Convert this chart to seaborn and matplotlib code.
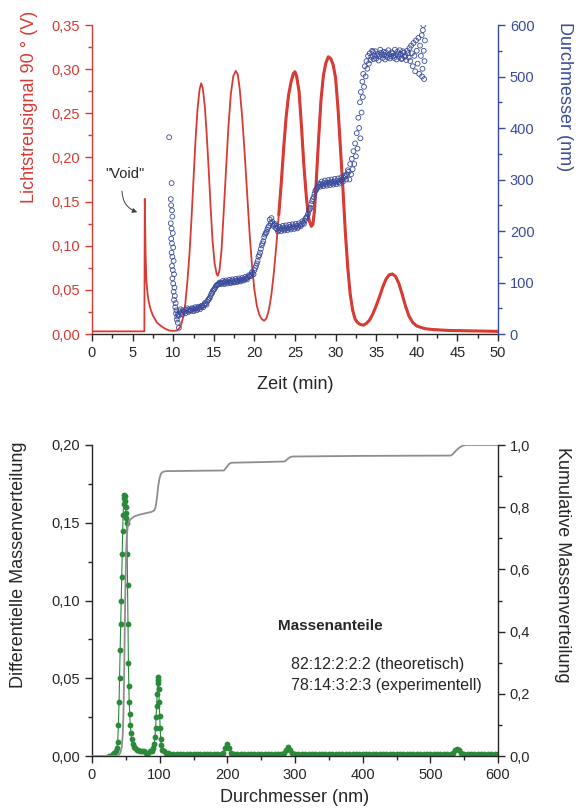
import pandas as pd
import seaborn as sns
import matplotlib.pyplot as plt
import matplotlib.ticker as mtick

# Lichtstreusignal (V) over Zeit (min)
sig_time = [0.0, 6.45, 6.5, 6.6, 6.7, 6.85, 7.0, 7.25, 7.5, 7.75,
            8.0, 8.5, 9.0, 9.5, 10.0, 10.5, 10.8, 11.0, 11.25, 11.5,
            11.75, 12.0, 12.25, 12.5, 12.75, 13.0, 13.25, 13.45, 13.65, 13.9,
            14.1, 14.35, 14.6, 14.85, 15.1, 15.35, 15.5, 15.7, 15.95, 16.2,
            16.5, 16.8, 17.1, 17.4, 17.7, 17.95, 18.2, 18.5, 18.8, 19.1,
            19.4, 19.7, 20.0, 20.3, 20.6, 20.9, 21.2, 21.5, 21.8, 22.1,
            22.4, 22.7, 23.0, 23.3, 23.6, 23.9, 24.2, 24.5, 24.8, 25.0,
            25.2, 25.5, 25.8, 26.1, 26.4, 26.7, 27.0, 27.2, 27.4, 27.6,
            27.9, 28.2, 28.5, 28.8, 29.1, 29.4, 29.7, 30.0, 30.3, 30.6,
            30.9, 31.2, 31.5, 31.8, 32.1, 32.4, 32.7, 33.0, 33.4, 33.8,
            34.2, 34.6, 35.0, 35.4, 35.8, 36.2, 36.6, 37.0, 37.4, 37.8,
            38.2, 38.6, 39.0, 39.5, 40.0, 41.0, 42.0, 44.0, 47.0, 50.0]
sig_volt = [0.003, 0.003, 0.153, 0.09, 0.06, 0.045, 0.036, 0.027, 0.021, 0.017,
            0.013, 0.009, 0.006, 0.004, 0.0035, 0.004, 0.007, 0.011, 0.02, 0.035,
            0.06, 0.09, 0.13, 0.175, 0.22, 0.255, 0.277, 0.284, 0.278, 0.257,
            0.23, 0.19, 0.145, 0.105, 0.08, 0.068, 0.066, 0.072, 0.095, 0.135,
            0.185, 0.235, 0.272, 0.292, 0.298, 0.294, 0.277, 0.245, 0.205, 0.16,
            0.115, 0.078, 0.05, 0.032, 0.022, 0.017, 0.015, 0.018, 0.028, 0.045,
            0.07, 0.1, 0.135, 0.17, 0.21, 0.245, 0.27, 0.285, 0.295, 0.297,
            0.292, 0.275, 0.235, 0.19, 0.155, 0.13, 0.122, 0.124, 0.14, 0.17,
            0.22, 0.265, 0.293, 0.307, 0.314, 0.312, 0.305, 0.29, 0.255, 0.21,
            0.165, 0.115, 0.075, 0.045, 0.027, 0.017, 0.013, 0.011, 0.010, 0.012,
            0.016, 0.023, 0.032, 0.042, 0.053, 0.062, 0.067, 0.068, 0.065, 0.057,
            0.045, 0.032, 0.021, 0.013, 0.009, 0.006, 0.005, 0.004, 0.0035, 0.003]

# Durchmesser (nm) scatter over Zeit (min)
dia_time = [9.5, 9.8, 9.7, 9.75, 9.85, 9.9, 9.7, 9.8, 9.95, 9.75,
            9.85, 10.0, 9.8, 9.9, 10.05, 9.85, 9.95, 10.1, 9.9, 10.0,
            10.15, 10.05, 10.2, 10.1, 10.3, 10.25, 10.4, 10.35, 10.5, 10.45,
            10.7, 10.55,
            10.6, 10.8, 11.0, 11.2, 11.4, 11.6, 11.8, 12.0, 12.2, 12.4,
            12.6, 12.8, 13.0, 13.2, 13.4, 13.6, 13.8, 14.0, 14.2, 14.4,
            10.7, 10.9, 11.1, 11.3, 11.5, 11.7, 11.9, 12.1, 12.3, 12.5,
            12.7, 12.9, 13.1, 13.3, 13.5, 13.7, 13.9, 14.1, 14.3,
            14.6, 14.8, 15.0, 15.2, 15.4, 15.6, 15.8, 16.0,
            14.5, 14.7, 14.9, 15.1, 15.3, 15.5, 15.7, 15.9,
            16.2, 16.4, 16.6, 16.8, 17.0, 17.2, 17.4, 17.6, 17.8, 18.0,
            18.2, 18.4, 18.6, 18.8, 19.0, 19.2, 19.4, 19.6, 19.8, 20.0,
            16.1, 16.3, 16.5, 16.7, 16.9, 17.1, 17.3, 17.5, 17.7, 17.9,
            18.1, 18.3, 18.5, 18.7, 18.9, 19.1, 19.3, 19.5, 19.7, 19.9,
            20.2, 20.4, 20.6, 20.8, 21.0, 21.2, 21.4, 21.6, 21.8, 22.0,
            22.2, 22.4, 22.6,
            20.1, 20.3, 20.5, 20.7, 20.9, 21.1, 21.3, 21.5, 21.7, 21.9,
            22.1, 22.3, 22.5,
            22.8, 23.0, 23.2, 23.4, 23.6, 23.8, 24.0, 24.2, 24.4, 24.6,
            24.8, 25.0, 25.2, 25.4, 25.6, 25.8, 26.0, 26.2, 26.4,
            22.7, 22.9, 23.1, 23.3, 23.5, 23.7, 23.9, 24.1, 24.3, 24.5,
            24.7, 24.9, 25.1, 25.3, 25.5, 25.7, 25.9, 26.1, 26.3, 26.5,
            26.6, 26.8, 27.0, 27.2, 27.4, 27.6, 27.8, 28.0, 28.2,
            26.7, 26.9, 27.1, 27.3, 27.5, 27.7, 27.9, 28.1, 28.3,
            28.4, 28.6, 28.8, 29.0, 29.2, 29.4, 29.6, 29.8, 30.0, 30.2,
            30.4, 30.6, 30.8, 31.0, 31.2, 31.4,
            28.5, 28.7, 28.9, 29.1, 29.3, 29.5, 29.7, 29.9, 30.1, 30.3,
            30.5, 30.7, 30.9, 31.1, 31.3, 31.5,
            31.6, 31.7, 31.8, 31.9, 32.0, 32.1, 32.2, 32.3, 32.4, 32.5,
            32.6, 32.7, 32.8, 32.9, 33.0, 33.05, 33.1, 33.2, 33.3, 33.35,
            33.4, 33.5, 33.6, 33.7, 33.8, 33.9, 34.0, 34.1,
            34.2, 34.4, 34.6, 34.8, 35.0, 35.2, 35.4, 35.6, 35.8, 36.0,
            36.2, 36.4, 36.6, 36.8, 37.0, 37.2, 37.4, 37.6, 37.8, 38.0,
            38.2, 38.4, 38.6, 38.8, 39.0,
            34.3, 34.5, 34.7, 34.9, 35.1, 35.3, 35.5, 35.7, 35.9, 36.1,
            36.3, 36.5, 36.7, 36.9, 37.1, 37.3, 37.5, 37.7, 37.9, 38.1,
            38.3, 38.5, 38.7, 38.9,
            39.1, 39.2, 39.3, 39.4, 39.5, 39.6, 39.7, 39.8, 39.9, 40.0,
            40.1, 40.2, 40.3, 40.4, 40.5, 40.6, 40.7, 40.75, 40.8, 40.85,
            40.9, 41.0, 40.95, 40.65]
dia_nm = [382, 293, 262, 250, 240, 228, 215, 205, 196, 185,
          176, 168, 158, 150, 142, 132, 124, 116, 108, 98,
          90, 82, 74, 66, 60, 52, 46, 40, 34, 28,
          12, 22,
          38, 44, 41, 46, 43, 47, 45, 48, 46, 49,
          47, 50, 49, 51, 52, 54, 56, 59, 63, 68,
          36, 48, 38, 44, 40, 50, 43, 45, 50, 44,
          52, 46, 53, 48, 55, 52, 60, 57, 66,
          74, 80, 86, 91, 95, 97, 99, 100,
          70, 78, 84, 88, 94, 96, 100, 97,
          99, 101, 100, 102, 100, 103, 101, 102, 104, 103,
          105, 104, 106, 107, 108, 110, 112, 115, 118, 124,
          103, 97, 104, 98, 105, 99, 106, 100, 107, 101,
          108, 102, 109, 104, 111, 106, 114, 112, 120, 116,
          132, 142, 153, 165, 176, 188, 196, 203, 210, 215,
          218, 212, 206,
          128, 137, 150, 158, 172, 180, 193, 198, 207, 222,
          225, 210, 214,
          204, 202, 205, 203, 206, 204, 207, 205, 208, 206,
          209, 207, 210, 208, 211, 213, 216, 220, 226,
          210, 199, 208, 200, 210, 201, 211, 202, 212, 203,
          213, 204, 214, 205, 215, 209, 219, 214, 224, 228,
          233, 242, 252, 262, 272, 280, 286, 289, 291,
          240, 245, 258, 266, 278, 283, 292, 286, 296,
          290, 293, 291, 294, 292, 295, 293, 296, 294, 297,
          295, 298, 300, 303, 306, 310,
          287, 298, 288, 299, 289, 300, 290, 301, 291, 302,
          292, 304, 296, 308, 300, 318,
          315, 300, 330, 310, 340, 320, 355, 330, 370, 345,
          390, 360, 420, 400, 450, 380, 470, 430, 490, 460,
          505, 480, 520, 500, 530, 515, 540, 525,
          545, 538, 548, 540, 535, 544, 539, 546, 536, 542,
          547, 537, 543, 539, 545, 536, 541, 548, 538, 544,
          535, 546, 540, 550, 537,
          532, 550, 534, 549, 541, 531, 552, 542, 548, 533,
          540, 551, 535, 547, 540, 552, 533, 543, 551, 534,
          549, 538, 532, 545,
          555, 530, 560, 545, 520, 565, 540, 510, 570, 550,
          525, 575, 505, 560, 540, 580, 515, 590, 600, 550,
          495, 570, 530, 500]

# Differentielle Massenverteilung: peaks at 48 and 98 nm
peak_nm = [25, 28, 31, 33, 35, 36.5, 38, 39, 40, 40.7,
           41.5, 42.4, 43.2, 44, 44.7, 45.3, 46, 46.6, 47.2, 47.8,
           48.4, 49, 49.6, 50.2, 50.8, 51.4, 52, 52.6, 53.2, 53.8,
           54.4, 55, 55.7, 56.5, 57.5, 58.5, 60, 62, 64, 66,
           68, 71, 74, 77, 80, 83, 86, 88.5, 90.5, 92,
           93, 94, 94.8, 95.5, 96.2, 96.9, 97.5, 98.1, 98.7, 99.3,
           100, 100.7, 101.5, 102.5, 104, 106, 109, 112, 116, 120]
peak_val = [0.000, 0.000, 0.001, 0.002, 0.003, 0.005, 0.009, 0.02, 0.035, 0.05,
            0.068, 0.085, 0.1, 0.115, 0.13, 0.145, 0.155, 0.162, 0.166, 0.168,
            0.167, 0.164, 0.16, 0.156, 0.153, 0.15, 0.13, 0.11, 0.085, 0.06,
            0.045, 0.035, 0.027, 0.02, 0.015, 0.011, 0.008, 0.006, 0.005, 0.004,
            0.004, 0.003, 0.003, 0.003, 0.002, 0.002, 0.003, 0.003, 0.005, 0.008,
            0.012, 0.018, 0.025, 0.032, 0.04, 0.047, 0.051, 0.049, 0.043, 0.035,
            0.026, 0.018, 0.011, 0.007, 0.004, 0.003, 0.002, 0.002, 0.001, 0.001]

# Differentielle Massenverteilung: baseline with small peaks at 200, 290, 540 nm
base_nm = [125, 130, 135, 140, 145, 150, 155, 160, 165, 170, 175, 180, 185, 190,
           194, 197, 200, 203, 206,
           210, 215, 220, 225, 230, 235, 240, 245, 250, 255, 260, 265, 270, 275, 280,
           284, 287, 290, 293, 296,
           300, 305, 310, 315, 320, 325, 330, 335, 340, 345, 350, 355, 360, 365, 370,
           375, 380, 385, 390, 395, 400, 405, 410, 415, 420, 425, 430, 435, 440, 445,
           450, 455, 460, 465, 470, 475, 480, 485, 490, 495, 500, 505, 510, 515, 520,
           525, 530,
           534, 537, 540, 543, 546,
           550, 555, 560, 565, 570, 575, 580, 585, 590, 595, 600]
base_val = [0.001, 0.001, 0.001, 0.001, 0.001, 0.001, 0.001, 0.001, 0.001, 0.001, 0.001, 0.001, 0.001, 0.001,
            0.002, 0.005, 0.008, 0.005, 0.002,
            0.001, 0.001, 0.001, 0.001, 0.001, 0.001, 0.001, 0.001, 0.001, 0.001, 0.001, 0.001, 0.001, 0.001, 0.001,
            0.002, 0.004, 0.006, 0.004, 0.002,
            0.001, 0.001, 0.001, 0.001, 0.001, 0.001, 0.001, 0.001, 0.001, 0.001, 0.001, 0.001, 0.001, 0.001, 0.001,
            0.001, 0.001, 0.001, 0.001, 0.001, 0.001, 0.001, 0.001, 0.001, 0.001, 0.001, 0.001, 0.001, 0.001, 0.001,
            0.001, 0.001, 0.001, 0.001, 0.001, 0.001, 0.001, 0.001, 0.001, 0.001, 0.001, 0.001, 0.001, 0.001, 0.001,
            0.001, 0.001,
            0.002, 0.004, 0.0045, 0.004, 0.002,
            0.001, 0.001, 0.001, 0.001, 0.001, 0.001, 0.001, 0.001, 0.001, 0.001, 0.001]

# Kumulative Massenverteilung
cum_nm = [0, 38, 42, 44, 45.5, 46.5, 47.5, 48.5, 49.5, 50.5,
          51.5, 53, 55, 58, 62, 70, 80, 88, 92, 94,
          96, 98, 100, 102, 105, 110, 150, 195, 198, 202,
          206, 250, 285, 288, 292, 296, 400, 530, 533, 537,
          542, 547, 552, 600]
cum_val = [0, 0, 0.01, 0.03, 0.07, 0.14, 0.26, 0.42, 0.56, 0.66,
           0.71, 0.74, 0.755, 0.763, 0.77, 0.776, 0.781, 0.785, 0.79, 0.80,
           0.83, 0.87, 0.895, 0.908, 0.914, 0.916, 0.917, 0.918, 0.926, 0.938,
           0.943, 0.945, 0.947, 0.953, 0.96, 0.963, 0.965, 0.966, 0.97, 0.98,
           0.99, 0.997, 1.0, 1.0]

RED = '#d83a34'
BLUE = '#3b4b9b'
GREEN = '#2b8a3a'
GRAY = '#8e8e8e'

sns.set_style("ticks")
plt.rcParams['font.family'] = ['Liberation Sans', 'DejaVu Sans']
plt.rcParams['axes.linewidth'] = 1.0

sig = pd.DataFrame({'Zeit': sig_time, 'Signal': sig_volt})
dia = pd.DataFrame({'Zeit': dia_time, 'Durchmesser': dia_nm})
diff = pd.DataFrame({'nm': peak_nm + base_nm, 'val': peak_val + base_val})
cum = pd.DataFrame({'nm': cum_nm, 'val': cum_val})

fig = plt.figure(figsize=(5.82, 8.09), dpi=100)
ax1 = fig.add_axes([92 / 582, 1 - 334 / 809, 406 / 582, 309 / 809])
ax1b = ax1.twinx()
ax2 = fig.add_axes([92 / 582, 1 - 756 / 809, 406 / 582, 311 / 809])
ax2b = ax2.twinx()

# --- upper panel ---
sns.lineplot(data=sig, x='Zeit', y='Signal', ax=ax1, color=RED, lw=1.3,
             estimator=None, sort=False)
# noisy part of the trace drawn thicker
sns.lineplot(data=sig[sig['Zeit'] >= 23], x='Zeit', y='Signal', ax=ax1,
             color=RED, lw=2.2, estimator=None, sort=False)
sns.scatterplot(data=dia, x='Zeit', y='Durchmesser', ax=ax1b, marker='o',
                s=12, color=BLUE, facecolor='none', edgecolor=BLUE, linewidth=0.6)

ax1.set_xlim(0, 50)
ax1.set_ylim(0, 0.35)
ax1b.set_ylim(0, 600)

ax1.text(4.1, 0.181, '"Void"', ha='center', va='center', fontsize=10.5)
ax1.annotate('', xy=(5.9, 0.137), xytext=(3.7, 0.165),
             arrowprops=dict(arrowstyle='-|>', connectionstyle='arc3,rad=0.4',
                             color='0.25', lw=0.7, mutation_scale=7))

# --- lower panel ---
sns.lineplot(data=diff, x='nm', y='val', ax=ax2, color=GREEN, lw=0.8,
             marker='o', markersize=4.2, markeredgewidth=0, estimator=None, sort=False)
sns.lineplot(data=cum, x='nm', y='val', ax=ax2b, color=GRAY, lw=1.3,
             estimator=None, sort=False)

ax2.set_xlim(0, 600)
ax2.set_ylim(0, 0.20)
ax2b.set_ylim(0, 1.0)

ax2.text(0.458, 0.418, 'Massenanteile', transform=ax2.transAxes,
         fontsize=11, fontweight='bold', va='center', ha='left')
ax2.text(0.491, 0.293, '82:12:2:2:2 (theoretisch)', transform=ax2.transAxes,
         fontsize=11.5, va='center', ha='left')
ax2.text(0.491, 0.228, '78:14:3:2:3 (experimentell)', transform=ax2.transAxes,
         fontsize=11.5, va='center', ha='left')

# --- axes formatting ---
def comma(fmt):
    return mtick.FuncFormatter(lambda v, p: format(v, fmt).replace('.', ','))

for ax in (ax1, ax1b, ax2, ax2b):
    ax.spines['top'].set_visible(False)
    ax.tick_params(which='both', direction='out', labelsize=10.5, width=1)
    ax.tick_params(which='major', length=5)
    ax.tick_params(which='minor', length=3)

for ax in (ax1, ax2):
    ax.spines['right'].set_visible(False)
for ax in (ax1b, ax2b):
    ax.spines['left'].set_visible(False)
    ax.spines['bottom'].set_visible(False)

ax1.xaxis.set_major_locator(mtick.MultipleLocator(5))
ax1.xaxis.set_minor_locator(mtick.MultipleLocator(2.5))
ax1.yaxis.set_major_locator(mtick.MultipleLocator(0.05))
ax1.yaxis.set_minor_locator(mtick.MultipleLocator(0.025))
ax1.yaxis.set_major_formatter(comma('.2f'))
ax1b.yaxis.set_major_locator(mtick.MultipleLocator(100))
ax1b.yaxis.set_minor_locator(mtick.MultipleLocator(50))

ax1.spines['left'].set_color(RED)
ax1.tick_params(axis='y', which='both', colors=RED)
ax1b.spines['right'].set_color(BLUE)
ax1b.tick_params(axis='y', which='both', colors=BLUE)

ax2.xaxis.set_major_locator(mtick.MultipleLocator(100))
ax2.xaxis.set_minor_locator(mtick.MultipleLocator(50))
ax2.yaxis.set_major_locator(mtick.MultipleLocator(0.05))
ax2.yaxis.set_minor_locator(mtick.MultipleLocator(0.025))
ax2.yaxis.set_major_formatter(comma('.2f'))
ax2b.yaxis.set_major_locator(mtick.MultipleLocator(0.2))
ax2b.yaxis.set_minor_locator(mtick.MultipleLocator(0.1))
ax2b.yaxis.set_major_formatter(comma('.1f'))

# axis labels
ax1.set_xlabel('Zeit (min)', fontsize=13, va='center')
ax1.xaxis.set_label_coords(0.5, -0.165)
ax1.set_ylabel('Lichtstreusignal 90 ° (V)', fontsize=13, color=RED, va='center')
ax1.yaxis.set_label_coords(-0.154, 0.735)
ax1b.set_ylabel('Durchmesser (nm)', fontsize=13, color=BLUE, rotation=270,
                va='center', ha='center')
ax1b.yaxis.set_label_coords(1.165, 0.767)

ax2.set_xlabel('Durchmesser (nm)', fontsize=13, va='center')
ax2.xaxis.set_label_coords(0.5, -0.132)
ax2.set_ylabel('Differentielle Massenverteilung', fontsize=13, va='center')
ax2.yaxis.set_label_coords(-0.181, 0.614)
ax2b.set_ylabel('Kumulative Massenverteilung', fontsize=13, rotation=270,
                va='center', ha='center')
ax2b.yaxis.set_label_coords(1.16, 0.614)

fig.savefig('out.png', dpi=100)
